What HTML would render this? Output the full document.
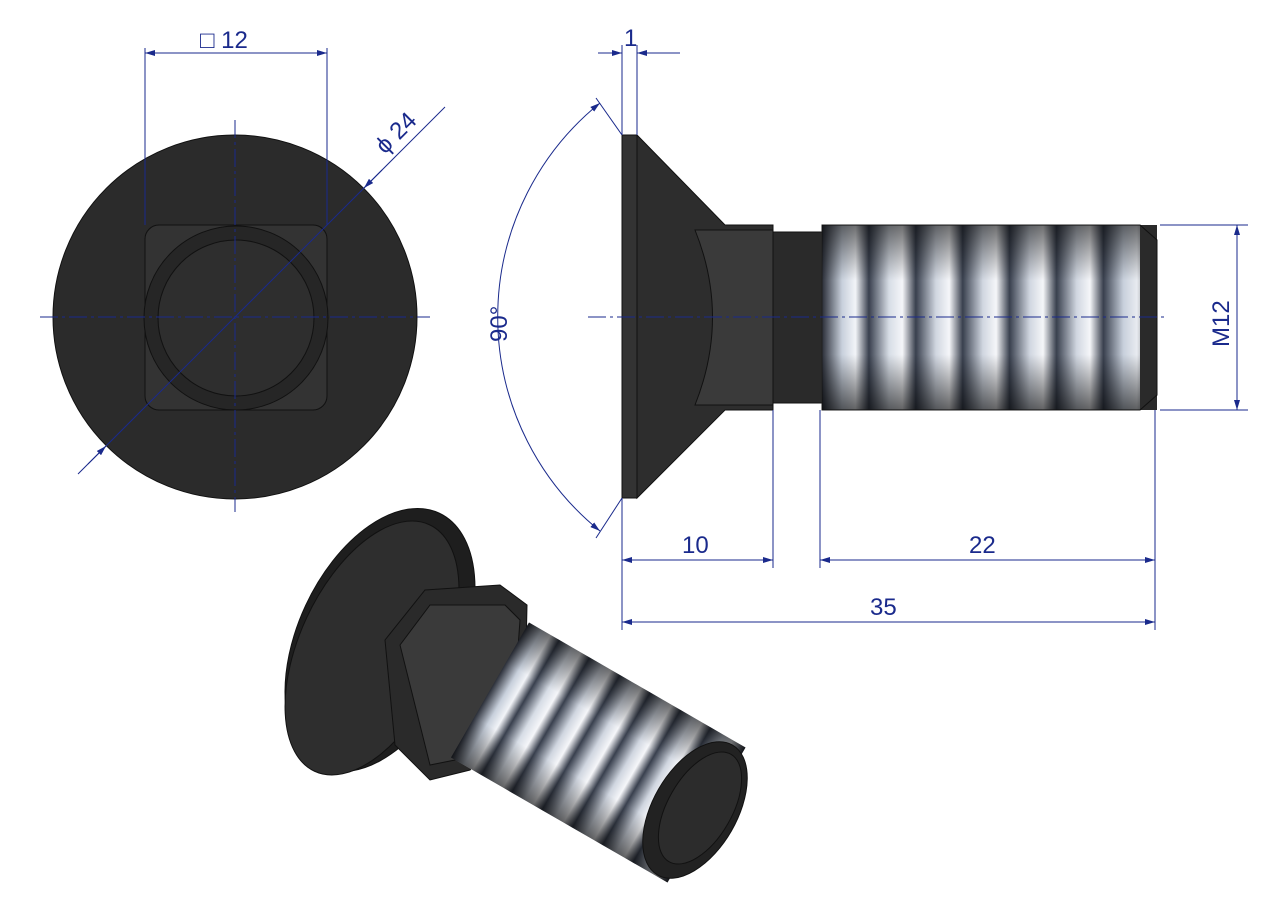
<!DOCTYPE html>
<html><head><meta charset="utf-8"><style>
html,body{margin:0;padding:0;background:#fff;width:1280px;height:904px;overflow:hidden}
svg text{font-family:"Liberation Sans",sans-serif;fill:#1a2a8c}
</style></head><body>
<svg width="1280" height="904" viewBox="0 0 1280 904" xmlns="http://www.w3.org/2000/svg">
<defs>
<linearGradient id="th" x1="0" y1="0" x2="1" y2="0">
<stop offset="0" stop-color="#2a2e38"/><stop offset=".06" stop-color="#c8d0dc"/><stop offset=".1" stop-color="#f2f4f8"/><stop offset=".14" stop-color="#39404e"/>
<stop offset=".2" stop-color="#d7dde6"/><stop offset=".24" stop-color="#f5f6f9"/><stop offset=".28" stop-color="#39404e"/>
<stop offset=".34" stop-color="#d0d6e0"/><stop offset=".38" stop-color="#f5f6f9"/><stop offset=".42" stop-color="#39404e"/>
<stop offset=".48" stop-color="#d0d6e0"/><stop offset=".52" stop-color="#f5f6f9"/><stop offset=".56" stop-color="#39404e"/>
<stop offset=".62" stop-color="#d0d6e0"/><stop offset=".66" stop-color="#f5f6f9"/><stop offset=".7" stop-color="#39404e"/>
<stop offset=".76" stop-color="#d0d6e0"/><stop offset=".8" stop-color="#f5f6f9"/><stop offset=".84" stop-color="#39404e"/>
<stop offset=".9" stop-color="#c8d0dc"/><stop offset=".94" stop-color="#e8ebf0"/><stop offset="1" stop-color="#2a2e38"/>
</linearGradient>
<linearGradient id="tv" x1="0" y1="0" x2="0" y2="1">
<stop offset="0" stop-color="#000" stop-opacity=".55"/><stop offset=".3" stop-color="#000" stop-opacity="0"/><stop offset=".7" stop-color="#000" stop-opacity="0"/><stop offset="1" stop-color="#000" stop-opacity=".6"/>
</linearGradient>
<marker id="a" viewBox="0 0 10 6" refX="10" refY="3" markerWidth="10" markerHeight="6" orient="auto-start-reverse" markerUnits="userSpaceOnUse"><path d="M0,0L10,3L0,6z" fill="#1a2a8c"/></marker>
</defs>

<!-- Left view -->
<circle cx="235" cy="317" r="182" fill="#2b2b2b" stroke="#111"/>
<rect x="145" y="225" width="182" height="185" rx="14" fill="#333" stroke="#111"/>
<circle cx="236" cy="318" r="92" fill="#262626" stroke="#111"/>
<circle cx="236" cy="318" r="78" fill="#2e2e2e" stroke="#111"/>
<g stroke="#1a2a8c" stroke-width="1" fill="none">
<path d="M40 317H430M235 120V512" stroke-dasharray="18 4 3 4"/>
<path d="M145 48V225M327 48V225"/>
<path d="M145 53H327" marker-start="url(#a)" marker-end="url(#a)"/>
<path d="M78 474L445 107"/>
<path d="M106 446L88 464" marker-start="url(#a)"/>
<path d="M364 188L382 170" marker-start="url(#a)"/>
</g>
<text x="200" y="48" font-size="24">□ 12</text>
<text x="0" y="0" font-size="24" transform="translate(385,155) rotate(-45)">ϕ 24</text>

<!-- Side view -->
<path d="M637 135L725 225H773V410H725L637 498Z" fill="#2d2d2d" stroke="#111"/>
<path d="M695 230Q730 317 695 405H773V230Z" fill="#3a3a3a" stroke="#111"/>
<rect x="622" y="135" width="15" height="363" fill="#333" stroke="#111"/>
<rect x="773" y="232" width="49" height="171" fill="#2a2a2a" stroke="#111"/>
<path d="M822 225H1140L1157 240V395L1140 410H822Z" fill="url(#th)" stroke="#222"/>
<path d="M822 225H1140L1157 240V395L1140 410H822Z" fill="url(#tv)"/>
<rect x="1140" y="225" width="17" height="185" fill="#2a2a2a"/>
<path d="M1140 225L1157 240V395L1140 410" fill="none" stroke="#111"/>
<g stroke="#1a2a8c" stroke-width="1" fill="none">
<path d="M588 317H1165" stroke-dasharray="18 4 3 4"/>
<path d="M622 45V135M637 45V135"/>
<path d="M598 53H622" marker-end="url(#a)"/><path d="M680 53H637" marker-end="url(#a)"/>
<path d="M622 135L596 98M622 498L596 538"/>
<path d="M600 103A275 275 0 0 0 600 531" marker-start="url(#a)" marker-end="url(#a)"/>
<path d="M1160 225H1248M1160 410H1248"/>
<path d="M1237 225V410" marker-start="url(#a)" marker-end="url(#a)"/>
<path d="M622 498V630M773 410V568M820 410V568M1155 410V630"/>
<path d="M622 560H773" marker-start="url(#a)" marker-end="url(#a)"/>
<path d="M820 560H1155" marker-start="url(#a)" marker-end="url(#a)"/>
<path d="M622 622H1155" marker-start="url(#a)" marker-end="url(#a)"/>
</g>
<text x="624" y="46" font-size="24">1</text>
<text x="0" y="0" font-size="24" transform="translate(507,342) rotate(-90)">90°</text>
<text x="0" y="0" font-size="24" transform="translate(1229,347) rotate(-90)">M12</text>
<text x="682" y="553" font-size="24">10</text>
<text x="969" y="553" font-size="24">22</text>
<text x="870" y="615" font-size="24">35</text>

<!-- Isometric -->
<ellipse cx="380" cy="640" rx="82" ry="140" transform="rotate(25 380 640)" fill="#1e1e1e" stroke="#111"/>
<ellipse cx="372" cy="648" rx="72" ry="136" transform="rotate(25 372 648)" fill="#2e2e2e" stroke="#111"/>
<path d="M385 640L425 590L500 585L527 605L525 700L470 770L430 780L395 745Z" fill="#2a2a2a" stroke="#111"/>
<path d="M400 645L430 605L505 605L520 620L515 690L455 760L430 765Z" fill="#3a3a3a" stroke="#111"/>
<g transform="translate(490,690) rotate(30)">
<rect x="0" y="-78" width="250" height="156" fill="url(#th)"/>
<rect x="0" y="-78" width="250" height="156" fill="url(#tv)"/>
</g>
<ellipse cx="695" cy="810" rx="42" ry="75" transform="rotate(30 695 810)" fill="#222" stroke="#111"/>
<ellipse cx="700" cy="808" rx="32" ry="62" transform="rotate(30 700 808)" fill="#2c2c2c" stroke="#111"/>
</svg>
</body></html>
